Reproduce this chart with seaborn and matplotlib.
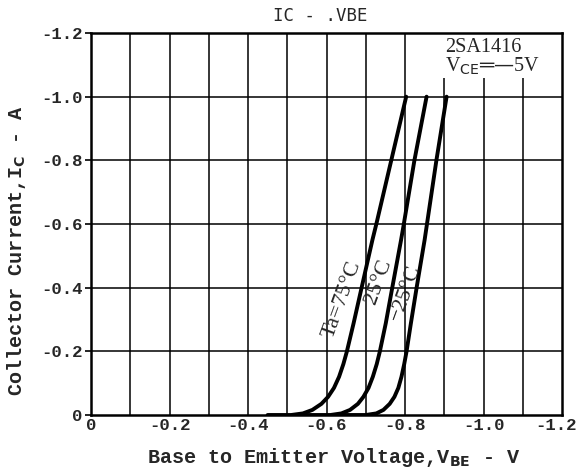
import numpy as np
import pandas as pd
import seaborn as sns
import matplotlib.pyplot as plt
from matplotlib.patches import Rectangle
from matplotlib.transforms import ScaledTranslation

# magnitudes (plotted as |V|, |I|; labels carry the minus sign)
ic_pts = [0.0, 0.0, 0.005, 0.016, 0.035, 0.057, 0.085, 0.12, 0.16, 0.2, 0.288, 0.403, 0.55, 0.6, 0.8, 1.0]
vbe_75 = [0.45, 0.51, 0.540, 0.564, 0.587, 0.604, 0.619, 0.632, 0.643, 0.652, 0.669, 0.690, 0.717, 0.727, 0.765, 0.803]
vbe_25 = [0.53, 0.61, 0.638, 0.660, 0.680, 0.694, 0.707, 0.718, 0.728, 0.736, 0.751, 0.768, 0.790, 0.797, 0.824, 0.855]
vbe_m25 = [0.62, 0.70, 0.727, 0.745, 0.761, 0.773, 0.783, 0.791, 0.798, 0.804, 0.815, 0.830, 0.850, 0.856, 0.880, 0.906]

x_ticks = [0, 0.2, 0.4, 0.6, 0.8, 1.0, 1.2]
x_labels = ["0", "-0.2", "-0.4", "-0.6", "-0.8", "-1.0", "-1.2"]
y_ticks = [0, 0.2, 0.4, 0.6, 0.8, 1.0, 1.2]
y_labels = ["0", "-0.2", "-0.4", "-0.6", "-0.8", "-1.0", "-1.2"]

df = pd.concat([
    pd.DataFrame({"vbe": vbe_75, "ic": ic_pts, "ta": "75"}),
    pd.DataFrame({"vbe": vbe_25, "ic": ic_pts, "ta": "25"}),
    pd.DataFrame({"vbe": vbe_m25, "ic": ic_pts, "ta": "-25"}),
])

sns.set_theme(style="white")
mono = "Liberation Mono"
serif = "Liberation Serif"

fig = plt.figure(figsize=(5.77, 4.72), dpi=100)
ax = fig.add_axes([91 / 577, 1 - 415 / 472, 471 / 577, 382 / 472])

ax.set_xlim(0, 1.2)
ax.set_ylim(0, 1.2)

# grid: every 0.1 V in x, every 0.2 A in y
for xv in np.arange(0.1, 1.2, 0.1):
    ax.axvline(xv, color="black", lw=1.1, zorder=1)
for yv in np.arange(0.2, 1.2, 0.2):
    ax.axhline(yv, color="black", lw=1.1, zorder=1)

# blank patch behind the part number note
ax.add_patch(Rectangle((0.89, 1.06), 0.31, 0.14, facecolor="white", edgecolor="none", zorder=2))

sns.lineplot(data=df, x="vbe", y="ic", units="ta", estimator=None, sort=False,
             color="black", lw=2.8, ax=ax, zorder=3,
             solid_joinstyle="round", solid_capstyle="round")

for s in ax.spines.values():
    s.set_color("black")
    s.set_linewidth(1.8)
    s.set_zorder(5)

ax.set_xticks(x_ticks)
ax.set_xticklabels(x_labels, fontfamily=mono, fontweight="bold", fontsize=12.5)
ax.set_yticks(y_ticks)
ax.set_yticklabels(y_labels, fontfamily=mono, fontweight="bold", fontsize=12.5)
ax.tick_params(axis="y", length=4, width=1.2, color="black", pad=2, direction="out", left=True)
ax.tick_params(axis="x", length=0, pad=2)
# keep the last x label inside the picture
last = ax.get_xticklabels()[-1]
last.set_transform(last.get_transform() + ScaledTranslation(-6 / 100, 0, fig.dpi_scale_trans))

ax.set_xlabel("Base to Emitter Voltage,V$_{\\mathbf{BE}}$ - V", fontfamily=mono,
              fontweight="bold", fontsize=14.5)
ax.set_ylabel("Collector Current,I$_{\\mathbf{C}}$ - A", fontfamily=mono,
              fontweight="bold", fontsize=14.5)
ax.xaxis.set_label_coords(0.516, -0.081)
ax.yaxis.set_label_coords(-0.134, 0.43)

fig.text(0.555, 0.966, "IC - .VBE", ha="center", va="center", fontfamily="DejaVu Sans Mono",
         fontsize=12.5)

ax.text(0.902, 1.185, "2SA1416\nV$_{\\mathrm{CE}}$═—5V", ha="left", va="top",
        fontfamily=serif, fontsize=14.5, linespacing=0.95, zorder=4)

ax.text(0.640, 0.364, "Ta=75°C", rotation=70, ha="center", va="center",
        fontfamily=serif, fontsize=16, zorder=4)
ax.text(0.733, 0.418, "25°C", rotation=70, ha="center", va="center",
        fontfamily=serif, fontsize=16, zorder=4)
ax.text(0.802, 0.385, "−25°C", rotation=70, ha="center", va="center",
        fontfamily=serif, fontsize=16, zorder=4)

fig.savefig("out.png", dpi=100, facecolor="white")
